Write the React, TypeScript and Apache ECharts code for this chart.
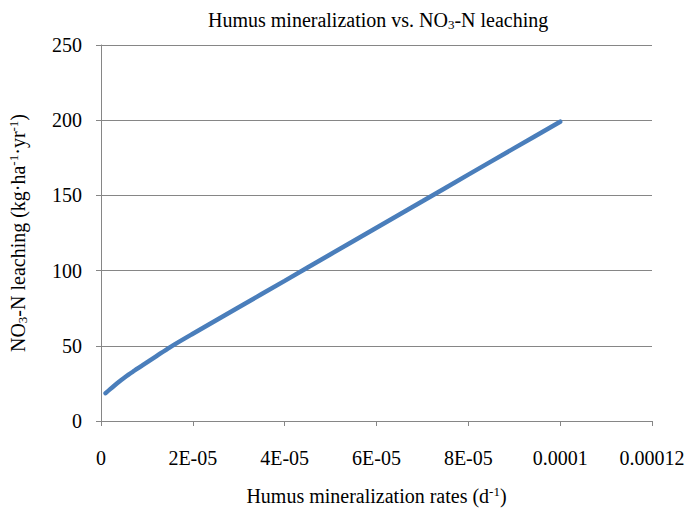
import React, { useEffect, useRef } from "react";
import * as echarts from "echarts";

const xValues = [1e-6, 2e-6, 3e-6, 4e-6, 5e-6, 6e-6, 7e-6, 8e-6, 9e-6, 1e-5, 1.2e-5, 1.5e-5, 2e-5, 3e-5, 4e-5, 5e-5, 6e-5, 7e-5, 8e-5, 9e-5, 1e-4];
const leaching = [18.5, 21.2, 23.8, 26.3, 28.6, 30.8, 32.9, 35, 37, 39, 43, 49, 58, 75.6, 93.2, 110.9, 128.5, 146.1, 163.8, 181.4, 199];
const xTickLabels = ["0", "2E-05", "4E-05", "6E-05", "8E-05", "0.0001", "0.00012"];

const FONT = "'Liberation Serif', 'Times New Roman', serif";
const GRID = "#868686";
const FS = 20;
const SMALL = 13;

export default function App() {
  const ref = useRef<HTMLDivElement>(null);
  useEffect(() => {
    if (!ref.current) return;
    const chart = echarts.init(ref.current, null, { renderer: "svg" });
    chart.setOption({
      animation: false,
      backgroundColor: "#ffffff",
      title: {
        text: "Humus mineralization vs. NO{sub|3}-N leaching",
        left: 203,
        top: 4,
        textStyle: {
          fontFamily: FONT,
          fontSize: FS,
          fontWeight: "normal",
          color: "#000",
          rich: {
            sub: { fontFamily: FONT, fontSize: SMALL, color: "#000", padding: [9, 0, 0, 0] },
          },
        },
      },
      grid: { left: 101, right: 35, top: 45, bottom: 91, outerBoundsMode: "none", containLabel: false },
      xAxis: {
        type: "value",
        min: 0,
        max: 0.00012,
        interval: 0.00002,
        name: "Humus mineralization rates (d{sup|-1})",
        nameLocation: "middle",
        nameGap: 64,
        nameTextStyle: {
          fontFamily: FONT,
          fontSize: FS,
          color: "#000",
          rich: {
            sup: { fontFamily: FONT, fontSize: SMALL, color: "#000", padding: [0, 0, 9, 0] },
          },
        },
        axisLine: { show: true, lineStyle: { color: GRID, width: 1 } },
        axisTick: { show: true, length: 5, lineStyle: { color: GRID } },
        splitLine: { show: false },
        axisLabel: {
          fontFamily: FONT,
          fontSize: FS,
          color: "#000",
          margin: 27,
          formatter: (v: number) => xTickLabels[Math.round(v / 0.00002)] ?? "",
        },
      },
      yAxis: {
        type: "value",
        min: 0,
        max: 250,
        interval: 50,
        name: "NO{sub|3}-N leaching (kg·ha{sup|-1}·yr{sup|-1})",
        nameLocation: "middle",
        nameGap: 72,
        nameTextStyle: {
          fontFamily: FONT,
          fontSize: FS,
          color: "#000",
          rich: {
            sub: { fontFamily: FONT, fontSize: SMALL, color: "#000", padding: [9, 0, 0, 0] },
            sup: { fontFamily: FONT, fontSize: SMALL, color: "#000", padding: [0, 0, 9, 0] },
          },
        },
        axisLine: { show: true, lineStyle: { color: GRID, width: 1 } },
        axisTick: { show: true, length: 5, lineStyle: { color: GRID } },
        splitLine: { show: true, lineStyle: { color: GRID, width: 1 } },
        axisLabel: { fontFamily: FONT, fontSize: FS, color: "#000", margin: 19 },
      },
      series: [
        {
          type: "line",
          data: xValues.map((x, i) => [x, leaching[i]]),
          smooth: 0.3,
          showSymbol: false,
          lineStyle: { color: "#4a7ebb", width: 4.5, cap: "round" },
          itemStyle: { color: "#4a7ebb" },
        },
      ],
    });
    return () => chart.dispose();
  }, []);
  return <div ref={ref} style={{ width: 687, height: 512, position: "absolute", left: 0, top: 0 }} />;
}
